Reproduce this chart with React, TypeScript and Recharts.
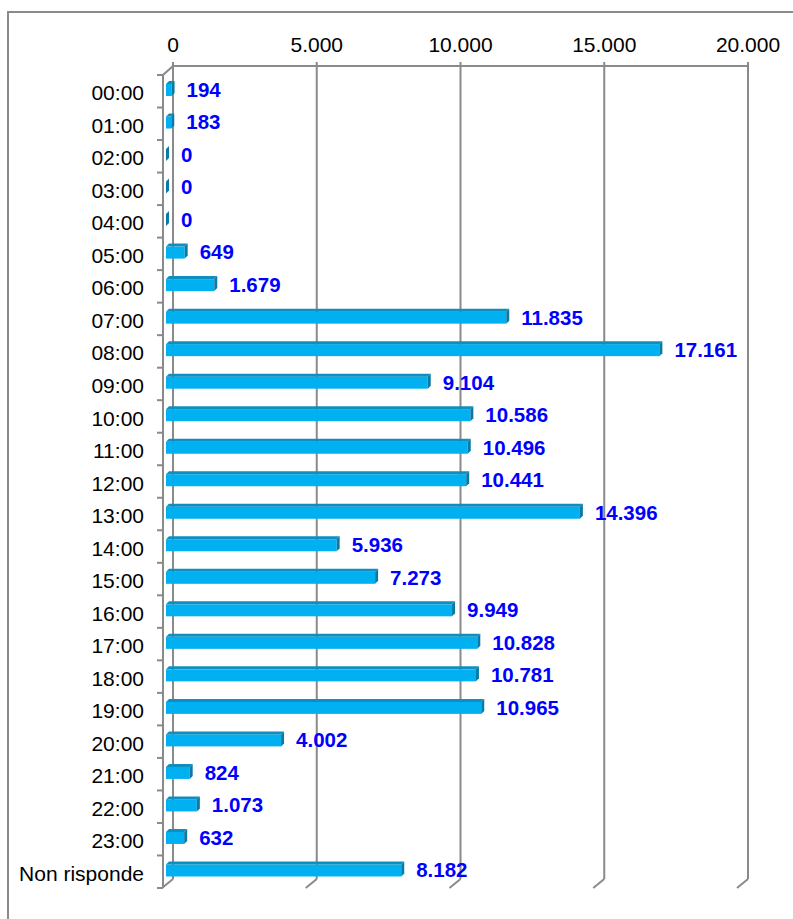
import { Bar, BarChart, CartesianGrid, LabelList, XAxis, YAxis } from "recharts";

const hours = [
  "00:00", "01:00", "02:00", "03:00", "04:00", "05:00", "06:00", "07:00",
  "08:00", "09:00", "10:00", "11:00", "12:00", "13:00", "14:00", "15:00",
  "16:00", "17:00", "18:00", "19:00", "20:00", "21:00", "22:00", "23:00",
  "Non risponde",
];
const counts = [
  194, 183, 0, 0, 0, 649, 1679, 11835, 17161, 9104, 10586, 10496, 10441,
  14396, 5936, 7273, 9949, 10828, 10781, 10965, 4002, 824, 1073, 632, 8182,
];
const axisTicks = [0, 5000, 10000, 15000, 20000];

const W = 793;
const H = 919;
const MARGIN = { top: 36, right: 45, bottom: 40, left: 8 };
const Y_AXIS_W = 165;
const X_AXIS_H = 30;
const PLOT_LEFT = MARGIN.left + Y_AXIS_W;
const PLOT_TOP = MARGIN.top + X_AXIS_H;
const PLOT_RIGHT = W - MARGIN.right;
const PLOT_BOTTOM = H - MARGIN.bottom;
const BAND = (PLOT_BOTTOM - PLOT_TOP) / hours.length;

// 3d depth of the floor / walls
const DX = -10;
const DY = 9;
// bars sit a bit in front of the back wall
const BAR_DX = -7;
const BAR_DY = 6;
const BAR_TOP = 3;

const GRAY = "#8a8a8a";
const FONT = "'Liberation Sans', Arial, sans-serif";

const data = hours.map((hour, i) => ({ hour, value: counts[i] }));

// 17161 -> "17.161"
const fmt = (v: number) => String(v).replace(/\B(?=(\d{3})+(?!\d))/g, ".");

function Bar3D(props: any) {
  const { x, y, width } = props;
  const X = x + BAR_DX;
  const Y = y + BAR_DY;
  const w = Math.max(0, width);
  const h = 15;
  const d = BAR_TOP;
  return (
    <g>
      {w > 0 && <rect x={X} y={Y + d} width={w} height={h - d} fill="#00b0f0" />}
      {w > 0 && (
        <polygon
          points={`${X},${Y + d} ${X + d},${Y} ${X + w + d},${Y} ${X + w},${Y + d}`}
          fill="#0d8fc0"
        />
      )}
      <polygon
        points={`${X + w},${Y + d} ${X + w + d},${Y} ${X + w + d},${Y + h - d} ${X + w},${Y + h}`}
        fill="#0a7aa5"
      />
    </g>
  );
}

function ValueLabel(props: any) {
  const { x, y, width, value } = props;
  return (
    <text
      x={x + BAR_DX + Math.max(0, width) + 15}
      y={y + BAR_DY + 8.5}
      dy="0.36em"
      fill="#0000ff"
      fontSize={20.5}
      fontWeight="bold"
      fontFamily={FONT}
    >
      {fmt(value)}
    </text>
  );
}

function HourTick(props: any) {
  const { y, payload } = props;
  return (
    <text
      x={144}
      y={y + DY + 1.5}
      dy="0.36em"
      textAnchor="end"
      fill="#000"
      fontSize={21}
      fontFamily={FONT}
    >
      {payload.value}
    </text>
  );
}

function Decor() {
  const frontX = PLOT_LEFT + DX;
  const scaleX = (v: number) =>
    PLOT_LEFT + (v / axisTicks[axisTicks.length - 1]) * (PLOT_RIGHT - PLOT_LEFT);
  return (
    <g>
      <path d={`M 8 ${H} V 12 H ${W}`} fill="none" stroke={GRAY} strokeWidth={2} />
      <path
        d={`M ${PLOT_LEFT} ${PLOT_TOP} L ${frontX} ${PLOT_TOP + DY} V ${PLOT_BOTTOM + DY}`}
        fill="none"
        stroke={GRAY}
        strokeWidth={2}
      />
      {hours.concat([""]).map((_, i) => (
        <line
          key={`t${i}`}
          x1={frontX - 6}
          x2={frontX}
          y1={PLOT_TOP + DY + i * BAND}
          y2={PLOT_TOP + DY + i * BAND}
          stroke={GRAY}
          strokeWidth={2}
        />
      ))}
      {axisTicks.map((v) => (
        <line
          key={`f${v}`}
          x1={scaleX(v)}
          y1={PLOT_BOTTOM}
          x2={scaleX(v) + DX - 1}
          y2={PLOT_BOTTOM + DY}
          stroke={GRAY}
          strokeWidth={2}
        />
      ))}
    </g>
  );
}

export default function App() {
  return (
    <div style={{ position: "absolute", left: 0, top: 0, background: "#fff" }}>
      <BarChart
        width={W}
        height={H}
        data={data}
        layout="vertical"
        margin={MARGIN}
        barCategoryGap={0}
      >
        <Decor />
        <CartesianGrid horizontal={false} stroke={GRAY} strokeWidth={2} />
        <XAxis
          type="number"
          orientation="top"
          domain={[0, 20000]}
          ticks={axisTicks}
          interval={0}
          height={X_AXIS_H}
          tickFormatter={fmt}
          axisLine={{ stroke: GRAY, strokeWidth: 2 }}
          tickLine={{ stroke: GRAY, strokeWidth: 2 }}
          tickSize={4}
          tickMargin={10}
          tick={{ fill: "#000", fontSize: 21, fontFamily: FONT }}
        />
        <YAxis
          type="category"
          dataKey="hour"
          width={Y_AXIS_W}
          axisLine={false}
          tickLine={false}
          interval={0}
          tick={<HourTick />}
        />
        <Bar dataKey="value" barSize={15} shape={<Bar3D />} isAnimationActive={false}>
          <LabelList dataKey="value" content={<ValueLabel />} />
        </Bar>
      </BarChart>
    </div>
  );
}
